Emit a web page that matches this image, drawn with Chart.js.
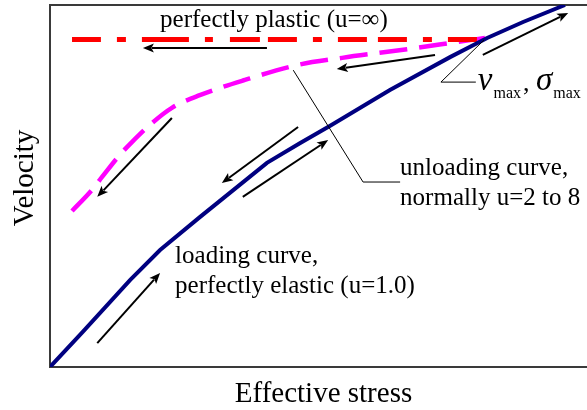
<!DOCTYPE html>
<html>
<head>
<meta charset="utf-8">
<script src="https://cdn.jsdelivr.net/npm/chart.js@4"></script>
<style>
html,body{margin:0;padding:0;background:#fff;}
#wrap{width:587px;height:410px;position:relative;}
</style>
</head>
<body>
<div id="wrap"><canvas id="c"></canvas></div>
<script>
// Loading curve (perfectly elastic, u=1.0): [stress, velocity]
const loadingStress   = [0, 6.1, 14.9, 20.5, 27.9, 40.4, 46.6, 52.1, 63.3, 74.5, 81.4, 88.1, 95.9];
const loadingVelocity = [0, 9.7, 24.0, 32.3, 41.4, 56.4, 61.9, 66.6, 76.5, 85.6, 90.9, 95.3, 100];

// Unloading curve (u = 2 to 8)
const unloadStress   = [4.1, 7.8, 9.7, 13.0, 15.3, 19.0, 22.7, 27.9, 36.3, 46.0, 54.4, 66.5, 74.5, 81.0];
const unloadVelocity = [43.1, 48.9, 52.5, 58.6, 62.2, 67.4, 71.6, 75.1, 79.3, 83.4, 85.4, 87.8, 89.5, 90.9];

// Perfectly plastic (u = infinity), drawn from v_max back to zero stress
const plasticStress   = [79.5, 4.1];
const plasticVelocity = [90.5, 90.5];

// Annotation arrows [x1, y1, x2, y2] in data units (head at x2,y2)
const arrows = [
  [40.4, 88.1, 17.3, 88.1],
  [71.7, 86.2, 53.4, 82.3],
  [22.7, 68.8, 8.8, 47.0],
  [46.2, 66.3, 32.0, 50.8],
  [35.9, 47.0, 51.8, 62.7],
  [80.6, 86.2, 96.5, 97.8],
  [8.8, 6.6, 20.5, 26.0]
];
// Leader lines (poly-lines) in data units
const leaders = [
  [[45.3, 82.0], [58.3, 51.1], [65.2, 51.1]],
  [[80.8, 90.3], [72.8, 78.7], [79.3, 78.7]]
];
// Text labels: [text, x, y] (left / baseline, data units)
const labels = [
  ['perfectly plastic (u=\u221E)', 20.5, 93.9],
  ['loading curve,', 23.3, 28.7],
  ['perfectly elastic (u=1.0)', 23.3, 20.4],
  ['unloading curve,', 65.2, 53.0],
  ['normally u=2 to 8', 65.2, 44.8]
];
const vmaxLabel = [79.3, 76.5];
const xTitle = 'Effective stress';
const yTitle = 'Velocity';

const pts = (xs, ys) => xs.map((x, i) => ({x: x, y: ys[i]}));

const annot = {
  id: 'annot',
  beforeDatasetsDraw(chart) {
    const {ctx, chartArea: a} = chart;
    ctx.save();
    ctx.strokeStyle = '#3a3a3a';
    ctx.lineWidth = 2;
    ctx.beginPath();
    ctx.moveTo(a.right + 2, a.top);
    ctx.lineTo(a.left, a.top);
    ctx.lineTo(a.left, a.bottom);
    ctx.lineTo(a.right + 2, a.bottom);
    ctx.stroke();
    ctx.restore();
  },
  afterDatasetsDraw(chart) {
    const {ctx} = chart;
    const xs = chart.scales.x, ys = chart.scales.y;
    const X = v => xs.getPixelForValue(v), Y = v => ys.getPixelForValue(v);
    ctx.save();
    // leaders
    ctx.strokeStyle = '#000';
    ctx.lineWidth = 1;
    leaders.forEach(l => {
      ctx.beginPath();
      l.forEach((p, i) => i ? ctx.lineTo(X(p[0]), Y(p[1])) : ctx.moveTo(X(p[0]), Y(p[1])));
      ctx.stroke();
    });
    // arrows
    ctx.lineWidth = 2;
    ctx.fillStyle = '#000';
    arrows.forEach(a => {
      const x1 = X(a[0]), y1 = Y(a[1]), x2 = X(a[2]), y2 = Y(a[3]);
      const ang = Math.atan2(y2 - y1, x2 - x1);
      const hl = 11, hw = 4.5;
      const bx = x2 - hl * Math.cos(ang), by = y2 - hl * Math.sin(ang);
      ctx.beginPath();
      ctx.moveTo(x1, y1);
      ctx.lineTo(bx + 2 * Math.cos(ang), by + 2 * Math.sin(ang));
      ctx.stroke();
      ctx.beginPath();
      ctx.moveTo(x2, y2);
      ctx.lineTo(bx - hw * Math.sin(ang), by + hw * Math.cos(ang));
      ctx.lineTo(bx + 2.5 * Math.cos(ang), by + 2.5 * Math.sin(ang));
      ctx.lineTo(bx + hw * Math.sin(ang), by - hw * Math.cos(ang));
      ctx.closePath();
      ctx.fill();
    });
    // labels
    ctx.fillStyle = '#000';
    ctx.textBaseline = 'alphabetic';
    ctx.textAlign = 'left';
    ctx.font = '25px "Liberation Serif"';
    labels.forEach(l => ctx.fillText(l[0], X(l[1]), Y(l[2])));
    // v_max , sigma_max
    let vx = X(vmaxLabel[0]) + 2, vy = Y(vmaxLabel[1]);
    ctx.font = 'italic 33px "Liberation Serif"';
    ctx.fillText('v', vx, vy);
    vx += ctx.measureText('v').width + 1;
    ctx.font = '16px "Liberation Serif"';
    ctx.fillText('max', vx, vy + 8);
    vx += ctx.measureText('max').width + 2;
    ctx.font = '26px "Liberation Serif"';
    ctx.fillText(',', vx, vy + 1);
    vx += ctx.measureText(', ').width;
    ctx.font = 'italic 33px "Liberation Serif"';
    ctx.fillText('\u03C3', vx, vy);
    vx += ctx.measureText('\u03C3').width + 1;
    ctx.font = '16px "Liberation Serif"';
    ctx.fillText('max', vx, vy + 8);
    // axis titles
    const a = chart.chartArea;
    ctx.font = '29px "Liberation Serif"';
    ctx.textAlign = 'center';
    ctx.fillText(xTitle, (a.left + a.right) / 2 + 5, a.bottom + 35);
    ctx.save();
    ctx.translate(33, (a.top + a.bottom) / 2 - 8);
    ctx.rotate(-Math.PI / 2);
    ctx.fillText(yTitle, 0, 0);
    ctx.restore();
    ctx.restore();
  }
};

new Chart(document.getElementById('c'), {
  type: 'scatter',
  data: {
    datasets: [
      {
        label: 'unloading curve',
        data: pts(unloadStress, unloadVelocity),
        showLine: true, borderColor: '#ff00ff', borderWidth: 4.5,
        borderDash: [28, 12], pointRadius: 0, cubicInterpolationMode: 'monotone', order: 3
      },
      {
        label: 'perfectly plastic',
        data: pts(plasticStress, plasticVelocity),
        showLine: true, borderColor: '#ff0000', borderWidth: 5,
        borderDash: [29, 16, 9, 16, 29, 11, 29, 16, 9, 16, 29, 8, 30, 17, 8, 16, 47, 16, 9, 16, 29, 40],
        pointRadius: 0, order: 2
      },
      {
        label: 'loading curve',
        data: pts(loadingStress, loadingVelocity),
        showLine: true, borderColor: '#000080', borderWidth: 4,
        pointRadius: 0, tension: 0, order: 1
      }
    ]
  },
  options: {
    responsive: true,
    maintainAspectRatio: false,
    animation: false,
    devicePixelRatio: 1,
    layout: {padding: {left: 50, top: 5, right: 0, bottom: 43}},
    plugins: {legend: {display: false}, tooltip: {enabled: false}},
    scales: {
      x: {type: 'linear', min: 0, max: 100, display: false},
      y: {type: 'linear', min: 0, max: 100, display: false}
    }
  },
  plugins: [annot]
});
</script>
</body>
</html>
